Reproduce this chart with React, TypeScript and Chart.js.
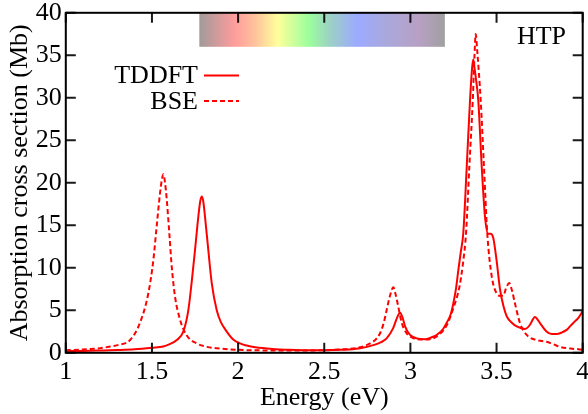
import React, { useEffect, useRef } from "react";
import { Chart, registerables } from "chart.js";

Chart.register(...registerables);

// ---- data ----
const tddftX = [
  1.0, 1.1, 1.2, 1.3, 1.4, 1.5, 1.566, 1.6, 1.644, 1.682, 1.711, 1.73, 1.75, 1.769, 1.78, 1.789, 1.798, 1.808,
  1.827, 1.847, 1.876, 1.9, 1.934, 1.97, 2.011, 2.05, 2.1, 2.2, 2.3, 2.4, 2.5, 2.6, 2.7, 2.785, 2.83, 2.862,
  2.9, 2.92, 2.94, 2.955, 2.969, 2.998, 3.037, 3.085, 3.12, 3.152, 3.19, 3.21, 3.235, 3.249, 3.265, 3.278,
  3.292, 3.307, 3.327, 3.346, 3.358, 3.365, 3.372, 3.38, 3.394, 3.414, 3.433, 3.452, 3.465, 3.481, 3.5, 3.52,
  3.54, 3.559, 3.59, 3.617, 3.665, 3.694, 3.71, 3.723, 3.735, 3.752, 3.79, 3.82, 3.849, 3.88, 3.907, 3.93,
  3.955, 3.975, 4.0,
];
const tddftY = [
  0.2, 0.22, 0.27, 0.33, 0.42, 0.6, 0.75, 1.0, 1.5, 2.5, 5.0, 8.2, 12.1, 16.0, 17.8, 18.4, 17.8, 16.0,
  12.1, 8.2, 5.0, 3.6, 2.5, 1.6, 1.1, 0.85, 0.65, 0.45, 0.35, 0.3, 0.3, 0.35, 0.5, 0.9, 1.25, 1.7,
  2.9, 4.0, 4.7, 4.1, 3.1, 2.1, 1.7, 1.6, 1.8, 2.1, 2.8, 3.5, 4.6, 5.8, 7.6, 9.7,
  11.8, 14.1, 21.9, 29.7, 33.5, 34.5, 33.5, 32.3, 29.7, 21.9, 16.0, 14.0, 14.0, 13.5, 10.9, 7.5,
  5.5, 4.3, 3.5, 3.1, 2.8, 3.3, 3.9, 4.2, 4.0, 3.5, 2.5, 2.2, 2.2, 2.4, 2.7, 3.2,
  3.7, 4.1, 4.9,
];

const bseX = [
  1.0, 1.1, 1.2, 1.25, 1.3, 1.373, 1.43, 1.479, 1.508, 1.527, 1.547, 1.557, 1.566, 1.576, 1.586, 1.601, 1.615,
  1.634, 1.663, 1.7, 1.76, 1.82, 1.876, 2.0, 2.2, 2.4, 2.6, 2.707, 2.766, 2.8, 2.824, 2.845, 2.862, 2.88,
  2.901, 2.915, 2.93, 2.95, 2.978, 3.0, 3.037, 3.085, 3.15, 3.21, 3.25, 3.285, 3.305, 3.323, 3.342, 3.362,
  3.372, 3.379, 3.388, 3.408, 3.427, 3.446, 3.472, 3.5, 3.52, 3.539, 3.555, 3.574, 3.59, 3.607, 3.636, 3.675,
  3.733, 3.79, 3.83, 3.868, 3.93, 3.984, 4.0,
];
const bseY = [
  0.3, 0.4, 0.55, 0.7, 0.9, 1.5, 3.5, 7.0, 10.9, 14.8, 18.8, 20.3, 21.0, 20.0, 18.0, 14.0, 10.1,
  6.6, 3.9, 2.1, 1.1, 0.7, 0.53, 0.35, 0.28, 0.28, 0.4, 0.65, 1.1, 1.6, 2.3, 3.5, 5.0, 6.6,
  7.7, 6.8, 5.4, 3.5, 2.3, 1.9, 1.6, 1.55, 1.9, 3.2, 5.3, 7.8, 10.5, 14.1, 21.9, 29.7,
  35.0, 37.5, 35.5, 29.7, 21.9, 14.1, 9.0, 7.0, 6.7, 6.7, 7.6, 8.2, 7.3, 5.8, 3.5, 2.1,
  1.5, 1.3, 1.0, 0.7, 0.5, 0.4, 0.35,
];

const xTicks = [1, 1.5, 2, 2.5, 3, 3.5, 4];
const yTicks = [0, 5, 10, 15, 20, 25, 30, 35, 40];

// visible-spectrum bar
const barStart = 1.775;
const barEnd = 3.2;
const barBottom = 36;
const barTop = 40;
const spectrumEnergies = [1.775, 1.98, 2.1, 2.23, 2.41, 2.53, 2.69, 2.86, 3.05, 3.2];
const spectrumColors = [
  "#a29a9a", "#ff9c9c", "#ffc39c", "#ffff9c", "#9cff9c", "#9cd2c4", "#9caaff", "#aaa8dc", "#b8a0c4", "#a0a0a0",
];

const FONT = "'Liberation Serif', 'Times New Roman', serif";

const framePlugin = {
  id: "frameAndExtras",
  beforeDatasetsDraw(chart: any) {
    const { ctx, scales } = chart;
    const xs = scales.x;
    const ys = scales.y;
    const x0 = xs.getPixelForValue(barStart);
    const x1 = xs.getPixelForValue(barEnd);
    const y0 = ys.getPixelForValue(barTop);
    const y1 = ys.getPixelForValue(barBottom);
    const g = ctx.createLinearGradient(x0, 0, x1, 0);
    spectrumEnergies.forEach((e, i) => {
      g.addColorStop((e - barStart) / (barEnd - barStart), spectrumColors[i]);
    });
    ctx.save();
    ctx.fillStyle = g;
    ctx.fillRect(x0, y0, x1 - x0, y1 - y0);
    ctx.restore();
  },
  afterDatasetsDraw(chart: any) {
    const { ctx, chartArea, scales } = chart;
    const { left, right, top, bottom } = chartArea;
    const xs = scales.x;
    const ys = scales.y;
    const tl = 10;
    ctx.save();
    ctx.globalCompositeOperation = "multiply";
    ctx.strokeStyle = "#1a1a1a";
    ctx.lineWidth = 2;
    ctx.beginPath();
    xTicks.forEach((v) => {
      const px = xs.getPixelForValue(v);
      ctx.moveTo(px, bottom);
      ctx.lineTo(px, bottom - tl);
      ctx.moveTo(px, top);
      ctx.lineTo(px, top + tl);
    });
    yTicks.forEach((v) => {
      const py = ys.getPixelForValue(v);
      ctx.moveTo(left, py);
      ctx.lineTo(left + tl, py);
      ctx.moveTo(right, py);
      ctx.lineTo(right - tl, py);
    });
    ctx.stroke();
    ctx.globalCompositeOperation = "source-over";
    ctx.strokeStyle = "#000";
    ctx.lineWidth = 2;
    ctx.strokeRect(left, top, right - left, bottom - top);

    // legend (text then line sample)
    ctx.font = `26px ${FONT}`;
    ctx.fillStyle = "#000";
    ctx.textAlign = "right";
    ctx.textBaseline = "alphabetic";
    const ds = chart.data.datasets;
    const rows = [83, 108.5];
    ds.forEach((d: any, i: number) => {
      const y = rows[i];
      ctx.fillText(d.label, 198, y);
      ctx.save();
      ctx.strokeStyle = d.borderColor;
      ctx.lineWidth = 2;
      ctx.setLineDash(d.borderDash || []);
      ctx.beginPath();
      ctx.moveTo(204, y - 7.5);
      ctx.lineTo(239, y - 7.5);
      ctx.stroke();
      ctx.restore();
    });

    // panel label
    ctx.textAlign = "right";
    ctx.fillText("HTP", 566, 43.5);
    ctx.restore();
  },
};

export default function App() {
  const ref = useRef<HTMLCanvasElement | null>(null);
  useEffect(() => {
    if (!ref.current) return;
    const chart = new Chart(ref.current, {
      type: "line",
      data: {
        datasets: [
          {
            label: "TDDFT",
            data: tddftX.map((x, i) => ({ x, y: tddftY[i] })),
            borderColor: "#ff0000",
            borderWidth: 2,
            pointRadius: 0,
            cubicInterpolationMode: "monotone",
            fill: false,
          },
          {
            label: "BSE",
            data: bseX.map((x, i) => ({ x, y: bseY[i] })),
            borderColor: "#ff0000",
            borderWidth: 2,
            borderDash: [5, 3],
            pointRadius: 0,
            cubicInterpolationMode: "monotone",
            fill: false,
          },
        ],
      },
      options: {
        animation: false,
        responsive: false,
        devicePixelRatio: 1,
        layout: { padding: { top: 12.8, right: 5.3, left: 0, bottom: 0 } },
        plugins: { legend: { display: false }, tooltip: { enabled: false } },
        scales: {
          x: {
            type: "linear",
            min: 1,
            max: 4,
            afterBuildTicks: (s: any) => {
              s.ticks = xTicks.map((v) => ({ value: v }));
            },
            afterFit: (s: any) => {
              s.height = 61.2;
              s.paddingLeft = 0;
              s.paddingRight = 0;
            },
            grid: { display: false, drawTicks: false },
            border: { display: false },
            ticks: {
              color: "#000",
              font: { family: FONT, size: 26 },
              padding: 4,
              maxRotation: 0,
              autoSkip: false,
              callback: (v: any) => String(v),
            },
            title: {
              display: true,
              text: "Energy (eV)",
              color: "#000",
              font: { family: FONT, size: 26 },
              padding: { top: 0, bottom: 0 },
            },
          },
          y: {
            type: "linear",
            min: 0,
            max: 40,
            afterBuildTicks: (s: any) => {
              s.ticks = yTicks.map((v) => ({ value: v }));
            },
            afterFit: (s: any) => {
              s.width = 65.8;
              s.paddingTop = 0;
              s.paddingBottom = 0;
            },
            grid: { display: false, drawTicks: false },
            border: { display: false },
            ticks: {
              color: "#000",
              font: { family: FONT, size: 26 },
              padding: 4,
              autoSkip: false,
              callback: (v: any) => String(v),
            },
            title: {
              display: true,
              text: "Absorption cross section (Mb)",
              color: "#000",
              font: { family: FONT, size: 26 },
              padding: { top: 5, bottom: 0 },
            },
          },
        },
      },
      plugins: [framePlugin],
    } as any);
    return () => chart.destroy();
  }, []);
  return (
    <div style={{ position: "fixed", left: 0, top: 0, width: 588, height: 414, background: "#fff" }}>
      <canvas ref={ref} width={588} height={414} style={{ width: 588, height: 414, display: "block" }} />
    </div>
  );
}
